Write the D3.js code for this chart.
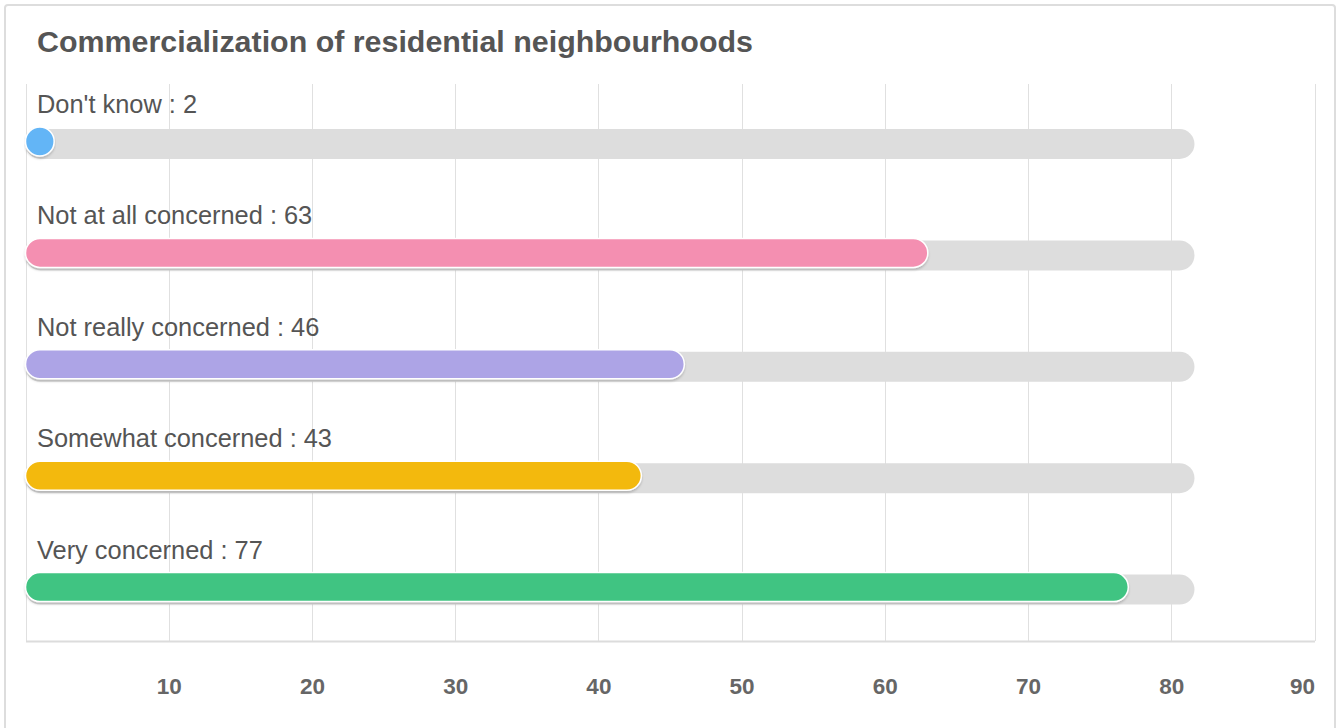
<!DOCTYPE html>
<html>
<head>
<meta charset="utf-8">
<script src="https://cdn.jsdelivr.net/npm/d3@7"></script>
<style>
  html, body { margin: 0; padding: 0; background: #fff; }
  svg { display: block; font-family: "Liberation Sans", Arial, Helvetica, sans-serif; }
</style>
</head>
<body>
<svg id="chart" width="1338" height="728"></svg>
<script>
// Survey answers
const categories = ["Don't know", "Not at all concerned", "Not really concerned", "Somewhat concerned", "Very concerned"];
const counts = [2, 63, 46, 43, 77];
const barColors = ["#64b5f6", "#f48fb1", "#ada4e6", "#f3b911", "#40c482"];
const tickValues = [10, 20, 30, 40, 50, 60, 70, 80, 90];
const titleText = "Commercialization of residential neighbourhoods";

const W = 1338, H = 728;
const svg = d3.select("#chart");

// Card frame
svg.append("rect")
  .attr("x", 5).attr("y", 5)
  .attr("width", 1330).attr("height", H + 20)
  .attr("rx", 3)
  .attr("fill", "#fff")
  .attr("stroke", "#dddddd")
  .attr("stroke-width", 2);

svg.append("text")
  .attr("x", 37).attr("y", 52)
  .attr("font-size", 30.4)
  .attr("font-weight", "bold")
  .attr("fill", "#555")
  .text(titleText);

const plot = { left: 25.5, right: 1314.5, top: 84, bottom: 641 };

const x = d3.scaleLinear().domain([0, 90]).range([plot.left, plot.right]);
const y = d3.scaleBand().domain(categories).range([plot.top, plot.bottom]);

// Shadow under the coloured bars
const defs = svg.append("defs");
const f = defs.append("filter").attr("id", "barShadow")
  .attr("x", "-5%").attr("y", "-30%").attr("width", "110%").attr("height", "170%");
f.append("feDropShadow").attr("dx", 0).attr("dy", 2).attr("stdDeviation", 1)
  .attr("flood-color", "#000").attr("flood-opacity", 0.18);

// Vertical grid lines
svg.append("g")
  .selectAll("line")
  .data([0].concat(tickValues))
  .join("line")
  .attr("x1", d => Math.round(x(d)) + 0.5)
  .attr("x2", d => Math.round(x(d)) + 0.5)
  .attr("y1", plot.top)
  .attr("y2", plot.bottom)
  .attr("stroke", "#e0e0e0")
  .attr("stroke-width", 1);

// Bottom axis
const axis = svg.append("g")
  .attr("transform", `translate(0,${plot.bottom})`)
  .call(d3.axisBottom(x).tickValues(tickValues).tickSize(0).tickPadding(37));
axis.select(".domain").attr("stroke", "#dcdcdc").attr("stroke-width", 2);
axis.selectAll("text")
  .attr("font-size", 22.5)
  .attr("font-weight", "bold")
  .attr("fill", "#666")
  .attr("font-family", "'Liberation Sans', Arial, sans-serif")
  // keep the last label inside the plot edge
  .attr("text-anchor", d => d === tickValues[tickValues.length - 1] ? "end" : "middle");

// Track shows the range up to 106% of the largest count
const trackMax = d3.max(counts) * 1.06;
const trackH = 30, barH = 29;

const rows = svg.append("g")
  .selectAll("g")
  .data(categories.map((c, i) => ({ cat: c, value: counts[i], color: barColors[i] })))
  .join("g")
  .attr("transform", d => `translate(0,${y(d.cat)})`);

rows.append("rect")
  .attr("x", x(0))
  .attr("y", 45)
  .attr("width", x(trackMax) - x(0))
  .attr("height", trackH)
  .attr("rx", trackH / 2)
  .attr("fill", "#dddddd");

rows.append("rect")
  .attr("x", x(0))
  .attr("y", 43)
  .attr("width", d => x(d.value) - x(0))
  .attr("height", barH)
  .attr("rx", d => Math.min(barH / 2, (x(d.value) - x(0)) / 2))
  .attr("fill", d => d.color)
  .attr("stroke", "#fff")
  .attr("stroke-width", 1.5)
  .attr("filter", "url(#barShadow)");

rows.append("text")
  .attr("x", 37)
  .attr("y", 29)
  .attr("font-size", 25.4)
  .attr("fill", "#555")
  .text(d => `${d.cat} : ${d.value}`);
</script>
</body>
</html>
